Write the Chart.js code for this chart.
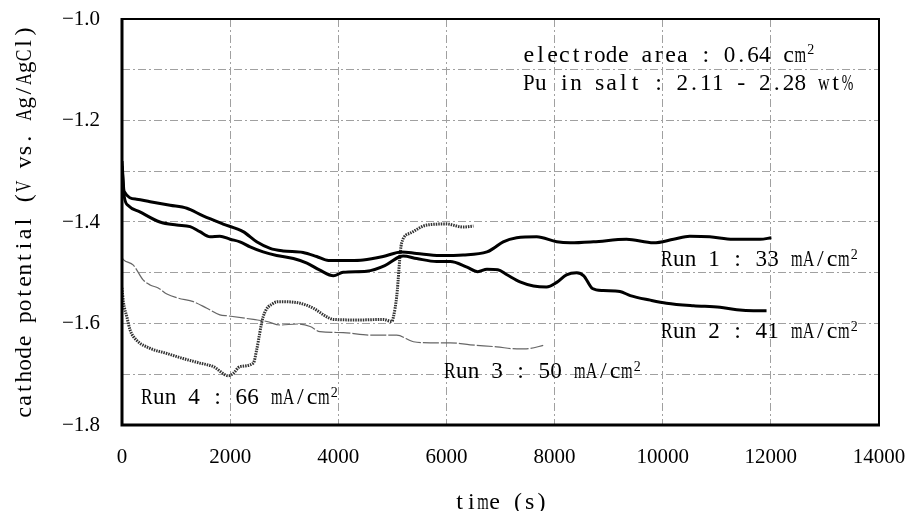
<!DOCTYPE html>
<html>
<head>
<meta charset="utf-8">
<script src="https://cdn.jsdelivr.net/npm/chart.js@4"></script>
<style>
html,body{margin:0;padding:0;background:#fff;}
#c{display:block;}
</style>
</head>
<body>
<canvas id="c" width="912" height="511"></canvas>
<script>
// ---- data ----
const run1T = [0, 40, 270, 520, 890, 1200, 1500, 1870, 2240, 2490, 2740, 2980, 3350, 3600, 3820, 4220, 4460, 4830, 5170, 5450, 5880, 6310, 6750, 6870, 7050, 7300, 7670, 8040, 8290, 8720, 9330, 9830, 10200, 10500, 10870, 11300, 11800, 12010];
const run1V = [-1.28, -1.340, -1.355, -1.360, -1.367, -1.373, -1.388, -1.404, -1.419, -1.439, -1.452, -1.457, -1.460, -1.468, -1.476, -1.476, -1.475, -1.468, -1.459, -1.462, -1.466, -1.465, -1.459, -1.452, -1.439, -1.431, -1.429, -1.439, -1.441, -1.439, -1.434, -1.441, -1.434, -1.428, -1.429, -1.434, -1.434, -1.431];

const run2T = [0, 40, 120, 330, 700, 1010, 1260, 1440, 1630, 1810, 2000, 2180, 2370, 2610, 2860, 3170, 3420, 3660, 3910, 4090, 4520, 4860, 5140, 5200, 5450, 5820, 6070, 6380, 6580, 6750, 6950, 7120, 7360, 7610, 7850, 8040, 8220, 8410, 8540, 8700, 8900, 9210, 9400, 9770, 10070, 10570, 11060, 11370, 11680, 11920];
const run2V = [-1.29, -1.349, -1.368, -1.380, -1.400, -1.406, -1.409, -1.419, -1.429, -1.428, -1.434, -1.439, -1.449, -1.459, -1.466, -1.472, -1.481, -1.495, -1.506, -1.499, -1.497, -1.486, -1.468, -1.467, -1.472, -1.478, -1.478, -1.489, -1.498, -1.493, -1.494, -1.504, -1.518, -1.526, -1.528, -1.519, -1.504, -1.500, -1.506, -1.531, -1.535, -1.537, -1.545, -1.554, -1.560, -1.565, -1.568, -1.573, -1.575, -1.575];

const run3T = [0, 25, 210, 390, 520, 670, 830, 1040, 1320, 1570, 1810, 1960, 2430, 2680, 2920, 3240, 3480, 3660, 4090, 4590, 5080, 5390, 5700, 6070, 6440, 6930, 7300, 7550, 7790];
const run3V = [-1.47, -1.474, -1.485, -1.514, -1.524, -1.530, -1.542, -1.550, -1.557, -1.570, -1.583, -1.585, -1.592, -1.596, -1.603, -1.601, -1.606, -1.616, -1.618, -1.623, -1.623, -1.636, -1.638, -1.638, -1.642, -1.646, -1.650, -1.649, -1.643];

const run4T = [0, 25, 90, 150, 270, 520, 830, 1130, 1440, 1690, 1970, 2060, 2180, 2430, 2490, 2610, 2800, 2920, 3290, 3540, 3790, 3910, 4400, 4830, 4990, 5020, 5080, 5170, 5330, 5640, 6000, 6310, 6500];
const run4V = [-1.53, -1.557, -1.587, -1.613, -1.633, -1.649, -1.659, -1.669, -1.678, -1.685, -1.703, -1.698, -1.685, -1.678, -1.652, -1.587, -1.560, -1.557, -1.560, -1.570, -1.587, -1.592, -1.593, -1.592, -1.596, -1.587, -1.547, -1.442, -1.422, -1.406, -1.404, -1.410, -1.408];

const xTitle = 'time (s)';
const yTitle = 'cathode potential (V vs. Ag/AgCl)';
const noteLines = ['electrode area : 0.64 cm', 'Pu in salt : 2.11 - 2.28 wt%'];
const runLabels = ['Run 1 : 33 mA/cm', 'Run 2 : 41 mA/cm', 'Run 3 : 50 mA/cm', 'Run 4 : 66 mA/cm'];

const toPts = (t, v) => t.map((x, i) => ({x: x, y: v[i]}));
const FONT = "'Liberation Serif', 'DejaVu Serif', serif";

// draw text in fixed-width cells (monospaced look of the original)
function monoText(ctx, str, x, y, cell, size) {
  ctx.font = size + 'px ' + FONT;
  ctx.textAlign = 'center';
  ctx.textBaseline = 'alphabetic';
  for (let i = 0; i < str.length; i++) {
    const ch = str[i];
    if (ch === ' ') continue;
    ctx.fillText(ch, x + i * cell + cell / 2, y, cell * 0.98);
  }
}
function sup(ctx, s, x, y) {
  ctx.font = '14px ' + FONT;
  ctx.textAlign = 'left';
  ctx.textBaseline = 'alphabetic';
  ctx.fillText(s, x, y);
}

const decor = {
  id: 'decor',
  afterDraw(chart) {
    const ctx = chart.ctx;
    const a = chart.chartArea;
    ctx.save();
    // frame
    ctx.strokeStyle = '#000';
    ctx.lineWidth = 2;
    ctx.beginPath();
    ctx.moveTo(a.left, a.top); ctx.lineTo(a.right, a.top); ctx.lineTo(a.right, a.bottom);
    ctx.stroke();
    ctx.lineWidth = 3;
    ctx.beginPath();
    ctx.moveTo(a.left, a.top - 1); ctx.lineTo(a.left, a.bottom); ctx.lineTo(a.right + 1, a.bottom);
    ctx.stroke();

    ctx.fillStyle = '#000';
    const cell = 11.8, fs = 24;
    // notes
    monoText(ctx, noteLines[0], 523, 62, cell, fs);
    sup(ctx, '2', 523 + noteLines[0].length * cell + 1, 54);
    monoText(ctx, noteLines[1], 523, 90, cell, fs);
    // run labels
    const pos = [[661, 266], [661, 338], [444, 378], [141, 404]];
    runLabels.forEach((s, i) => {
      monoText(ctx, s, pos[i][0], pos[i][1], cell, fs);
      sup(ctx, '2', pos[i][0] + s.length * cell + 1, pos[i][1] - 7);
    });
    // x title
    const xc = (a.left + a.right) / 2;
    monoText(ctx, xTitle, xc - xTitle.length * 11.7 / 2, 509, 11.7, fs);
    // y title
    ctx.translate(31, (a.top + a.bottom) / 2);
    ctx.rotate(-Math.PI / 2);
    monoText(ctx, yTitle, -yTitle.length * 11.9 / 2, 0, 11.9, fs);
    ctx.restore();
  }
};

const gridOpts = {color: '#a0a0a0', lineWidth: 1, drawTicks: false};
const tickFont = {family: FONT, size: 21};

new Chart(document.getElementById('c'), {
  type: 'line',
  data: {
    datasets: [
      {label: 'Run 1', data: toPts(run1T, run1V), borderColor: '#000', borderWidth: 3, pointRadius: 0, cubicInterpolationMode: 'monotone'},
      {label: 'Run 2', data: toPts(run2T, run2V), borderColor: '#000', borderWidth: 3, pointRadius: 0, cubicInterpolationMode: 'monotone'},
      {label: 'Run 3', data: toPts(run3T, run3V), borderColor: '#666', borderWidth: 1.2, borderDash: [16, 2], pointRadius: 0, cubicInterpolationMode: 'monotone'},
      {label: 'Run 4', data: toPts(run4T, run4V), borderColor: '#333', borderWidth: 3, borderDash: [1.5, 1], pointRadius: 0, cubicInterpolationMode: 'monotone'}
    ]
  },
  options: {
    responsive: false,
    animation: false,
    layout: {padding: {left: 0, right: 33, top: 19, bottom: 0}},
    plugins: {legend: {display: false}, tooltip: {enabled: false}},
    scales: {
      x: {
        type: 'linear', min: 0, max: 14000,
        ticks: {stepSize: 2000, color: '#000', font: tickFont, padding: 20, maxRotation: 0,
          callback: v => String(v)},
        grid: gridOpts,
        border: {display: false, dash: [8, 3, 2, 3]},
        afterFit: s => { s.height = 86; s.paddingLeft = 0; s.paddingRight = 0; }
      },
      y: {
        type: 'linear', min: -1.8, max: -1.0,
        ticks: {stepSize: 0.1, color: '#000', font: tickFont, padding: 22,
          callback: v => (Math.round(v * 10) % 2 === 0 ? (v < 0 ? '\u2212' : '') + Math.abs(v).toFixed(1) : '')},
        grid: gridOpts,
        border: {display: false, dash: [8, 3, 2, 3]},
        afterFit: s => { s.width = 122; s.paddingTop = 0; s.paddingBottom = 0; }
      }
    }
  },
  plugins: [decor]
});
</script>
</body>
</html>
